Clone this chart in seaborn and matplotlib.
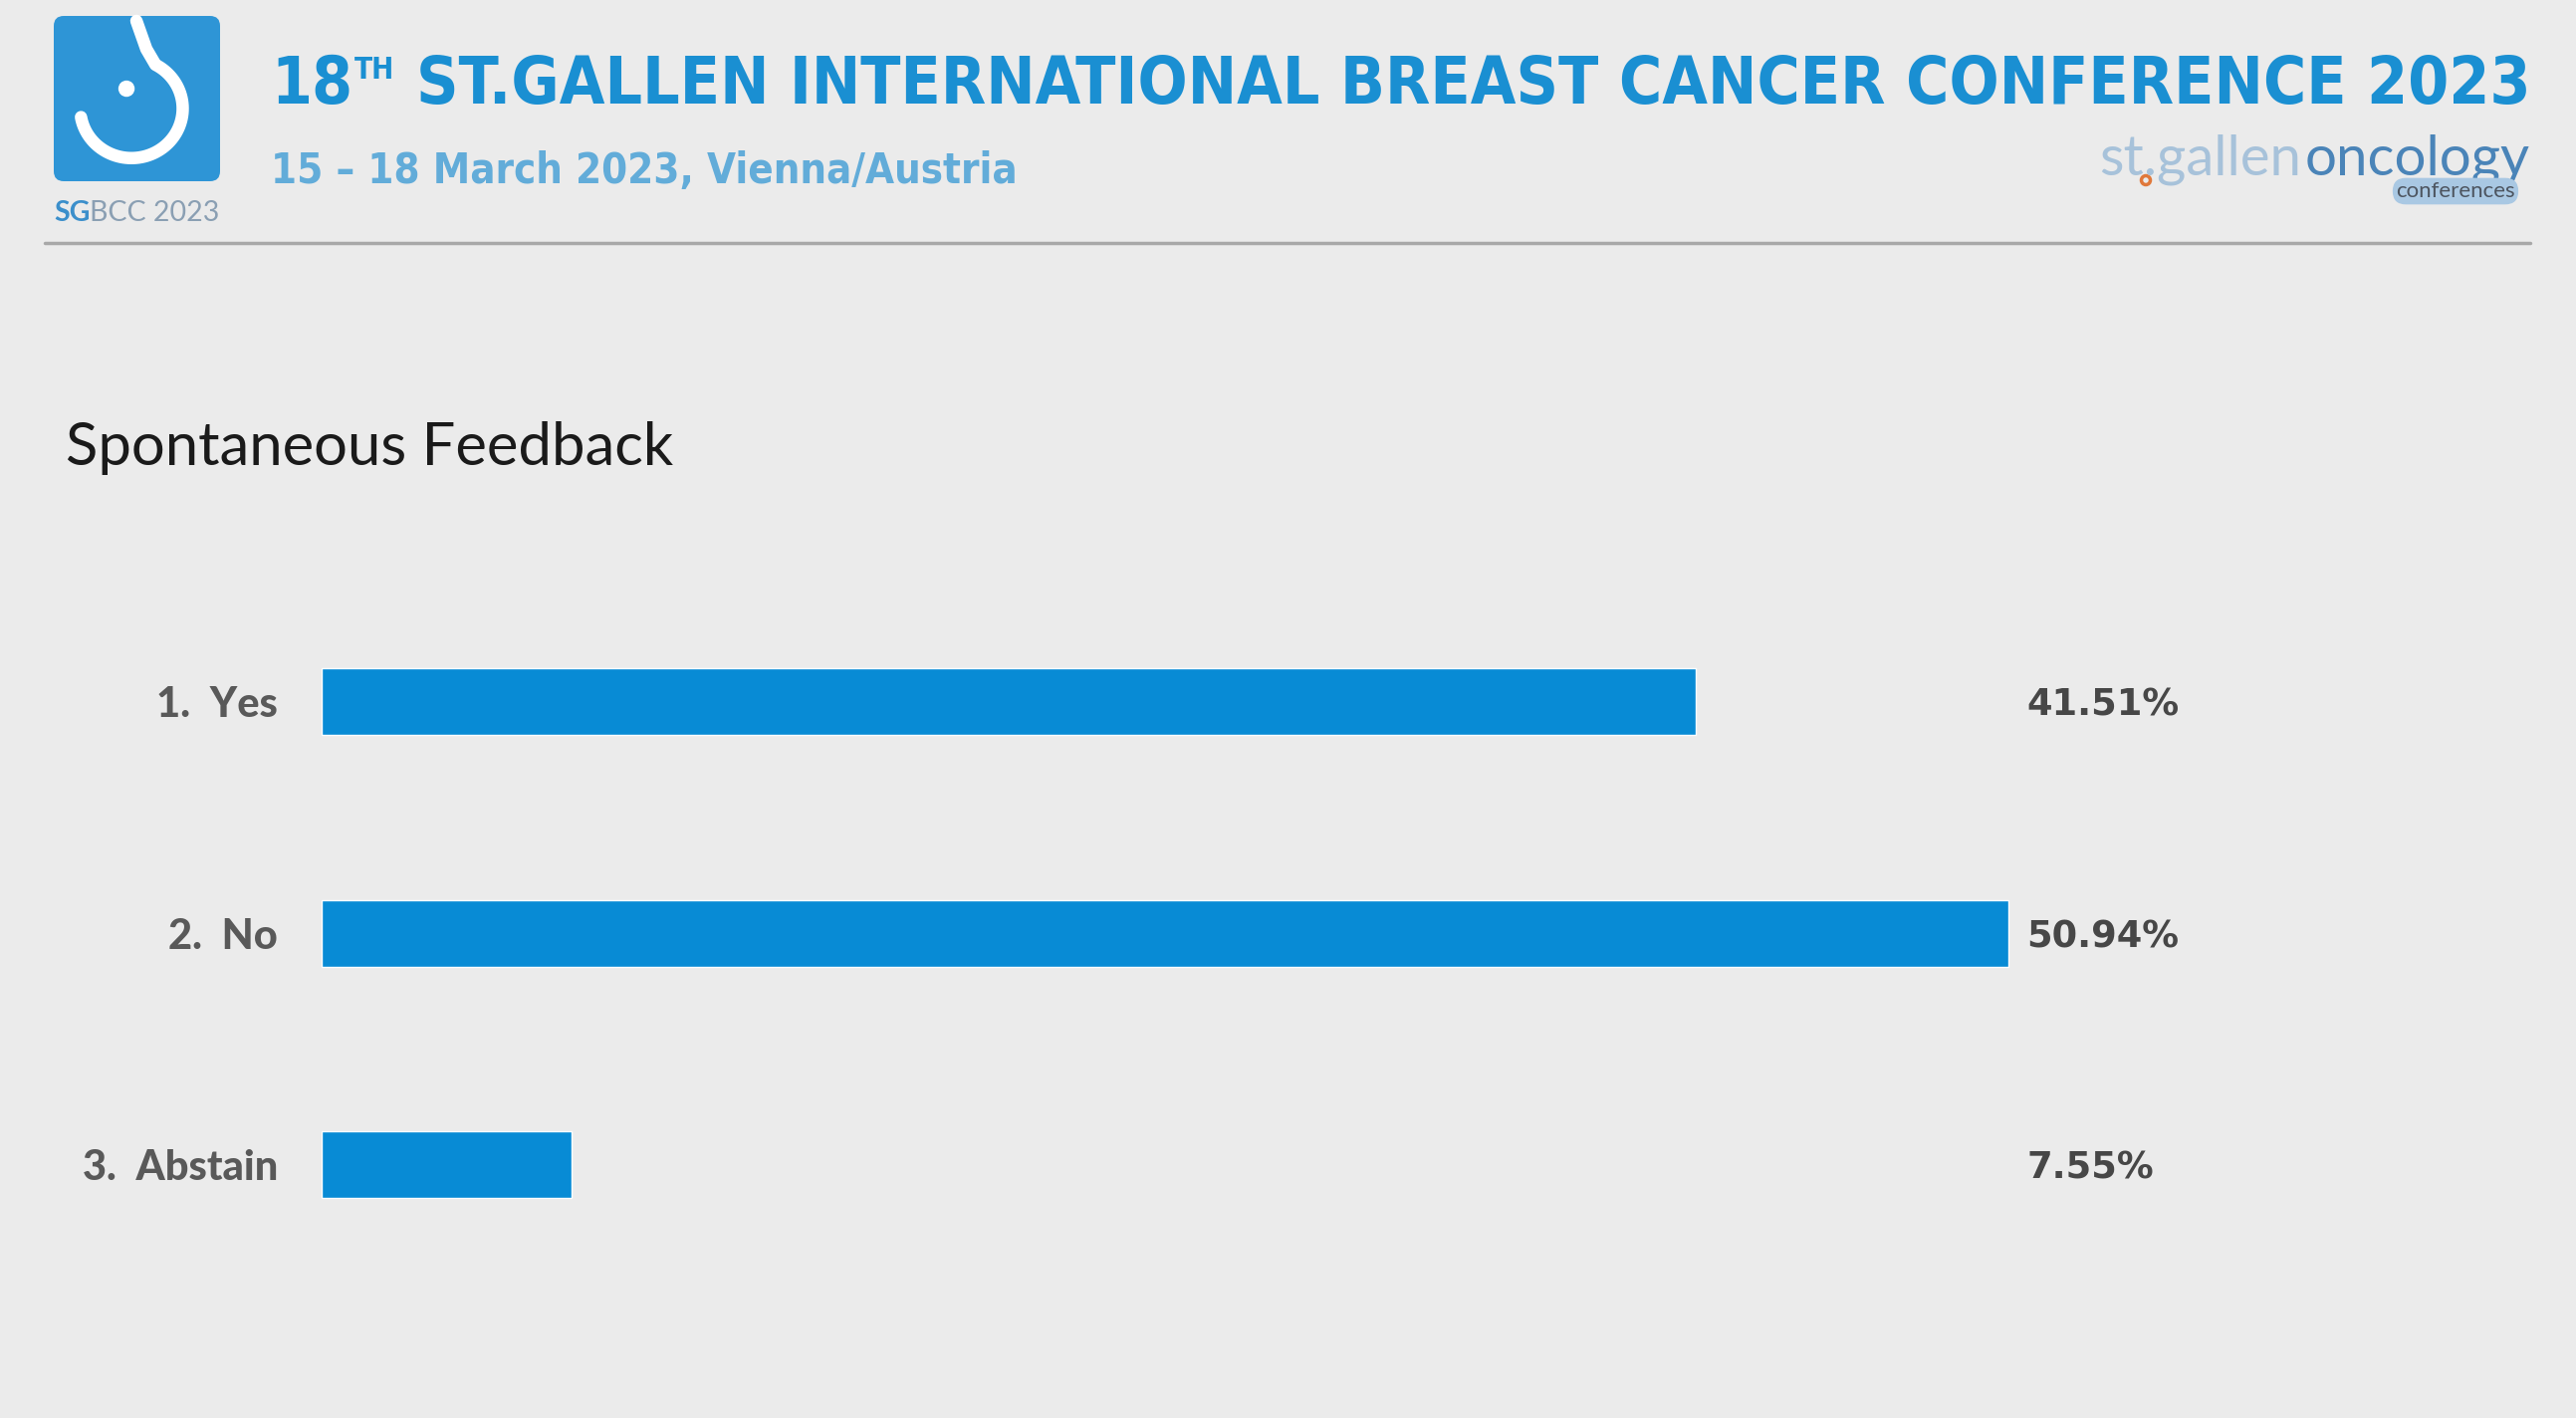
import matplotlib.pyplot as plt
import seaborn as sns
import pandas as pd
import numpy as np
from matplotlib import font_manager as fm
from matplotlib.patches import FancyBboxPatch, Circle

# data
answers = ["1.  Yes", "2.  No", "3.  Abstain"]
shares = [41.51, 50.94, 7.55]
share_labels = ["41.51%", "50.94%", "7.55%"]
chart_title = "Spontaneous Feedback"
header_main = "ST.GALLEN INTERNATIONAL BREAST CANCER CONFERENCE 2023"
header_num = "18"
header_sup = "TH"
header_date = "15 – 18 March 2023, Vienna/Austria"

W, H = 2587, 1424
BG = "#ebebeb"
BAR = "#088bd5"
HEAD_BLUE = "#1a8fd2"

sns.set_theme(style="white")
plt.rcParams["font.family"] = ["Lato", "DejaVu Sans"]


def condensed_font(bold=True):
    picks = []
    for f in fm.fontManager.ttflist:
        cond = "condensed" in str(f.stretch).lower() or "Condensed" in f.name
        w = f.weight if isinstance(f.weight, int) else (700 if "bold" in str(f.weight) else 400)
        if cond and ((w >= 600) == bold) and "Oblique" not in f.fname and "Italic" not in f.fname:
            picks.append(f)
    if picks:
        picks.sort(key=lambda f: 0 if "DejaVu" in f.name else 1)
        return fm.FontProperties(fname=picks[0].fname)
    return fm.FontProperties(family="DejaVu Sans", weight="bold" if bold else "normal")


head_font = condensed_font(True)

fig = plt.figure(figsize=(W / 100, H / 100), dpi=100, facecolor=BG)
renderer = fig.canvas.get_renderer()


def px(x, y):
    return x / W, 1 - y / H


def width_of(t):
    return t.get_window_extent(renderer).width


def fit(t, width):
    t.set_fontsize(t.get_fontsize() * width / width_of(t))
    return t


# header: "18" + superscript "TH" + main line, fitted to the full span
t_num = fig.text(*px(272, 104), header_num, ha="left", va="baseline",
                 fontproperties=head_font, color=HEAD_BLUE, fontsize=40)
t_sup = fig.text(0, 0, header_sup, ha="left", va="top",
                 fontproperties=head_font, color=HEAD_BLUE, fontsize=40 * 0.45)
t_main = fig.text(*px(2541, 104), header_main, ha="right", va="baseline",
                  fontproperties=head_font, color=HEAD_BLUE, fontsize=40)
total = width_of(t_num) + width_of(t_sup) + width_of(t_main) + 0.35 * 40 * 100 / 72
scale = 2269 / total
for t in (t_num, t_sup, t_main):
    t.set_fontsize(t.get_fontsize() * scale)
bb_num = t_num.get_window_extent(renderer)
bb_main = t_main.get_window_extent(renderer)
t_sup.set_position(((bb_num.x1 + 2) / W, (bb_main.y1 - 2) / H))

t_date = fig.text(*px(272, 184), header_date, ha="left", va="baseline",
                  fontproperties=head_font, color="#62acd9", fontsize=20)
fit(t_date, 751)

# logo block
tr = fig.dpi_scale_trans
ox, oy, sz = 0.54, (H - 182) / 100, 1.66
fig.add_artist(FancyBboxPatch((ox, oy), 1.67, sz,
                              boxstyle="round,pad=0,rounding_size=0.1",
                              facecolor="#2e95d6", edgecolor="none", transform=tr))
th = np.radians(np.linspace(62, -170, 80))
ux = 0.47 + 0.31 * np.cos(th)
uy = 0.44 + 0.30 * np.sin(th)
ux = np.concatenate([[0.50, 0.56], ux])
uy = np.concatenate([[0.97, 0.80], uy])
fig.add_artist(plt.Line2D(ox + ux * sz, oy + uy * sz, color="white", lw=9,
                          solid_capstyle="round", transform=tr))
fig.add_artist(Circle((ox + 0.44 * sz, oy + 0.56 * sz), 0.075, color="white", transform=tr))
t_sg = fig.text(*px(54, 222), "SG", ha="left", va="baseline", color="#3b8fcb",
                fontsize=20.5, fontweight="bold")
bb = t_sg.get_window_extent(renderer)
fig.text(bb.x1 / W, 1 - 222 / H, "BCC 2023", ha="left", va="baseline",
         color="#8a9fb3", fontsize=20.5)

# right logo
t_onc = fig.text(*px(2541, 176), "oncology", ha="right", va="baseline",
                 color="#4a84b8", fontsize=30)
fit(t_onc, 226)
bb = t_onc.get_window_extent(renderer)
fig.text((bb.x0 - 4) / W, 1 - 176 / H, "st.gallen", ha="right", va="baseline",
         color="#a7c2da", fontsize=t_onc.get_fontsize())
fig.add_artist(Circle((2155 / 100, (H - 181) / 100), 0.045, facecolor="none",
                      edgecolor="#e0783a", lw=2.5, transform=tr))
fig.text(*px(2466, 192), "conferences", ha="center", va="center", color="#4d5560",
         fontsize=16, bbox=dict(boxstyle="round,pad=0.15,rounding_size=0.6",
                                facecolor="#a9c8e3", edgecolor="none"))

# separator
fig.add_artist(plt.Line2D([45 / W, 2541 / W], [1 - 244 / H] * 2, color="#a8a8a8", lw=2.5))

# chart title
fig.text(*px(66, 467), chart_title, ha="left", va="baseline", color="#1a1a1a", fontsize=43)

# bars
ax = fig.add_axes([323 / W, 1 - 1286 / H, 1995 / W, 697.5 / H])
ax.set_facecolor("none")
df = pd.DataFrame({"answer": answers, "share": shares})
sns.barplot(data=df, x="share", y="answer", orient="h", color=BAR, saturation=1,
            width=0.29, ax=ax)
ax.set_xlim(0, 60)
ax.set_ylim(2.5, -0.5)
for i, lab in enumerate(share_labels):
    ax.text(51.5, i + 0.015, lab, ha="left", va="center", color="#474747",
            fontsize=26.5, fontweight="bold", family="DejaVu Sans")
ax.set_xticks([])
ax.set_xlabel("")
ax.set_ylabel("")
ax.tick_params(axis="y", length=0, pad=31.7)
for lab in ax.get_yticklabels():
    lab.set_fontsize(30)
    lab.set_fontweight(900)
    lab.set_color("#595959")
sns.despine(ax=ax, left=True, bottom=True)

fig.savefig("out.png", dpi=100, facecolor=BG)
